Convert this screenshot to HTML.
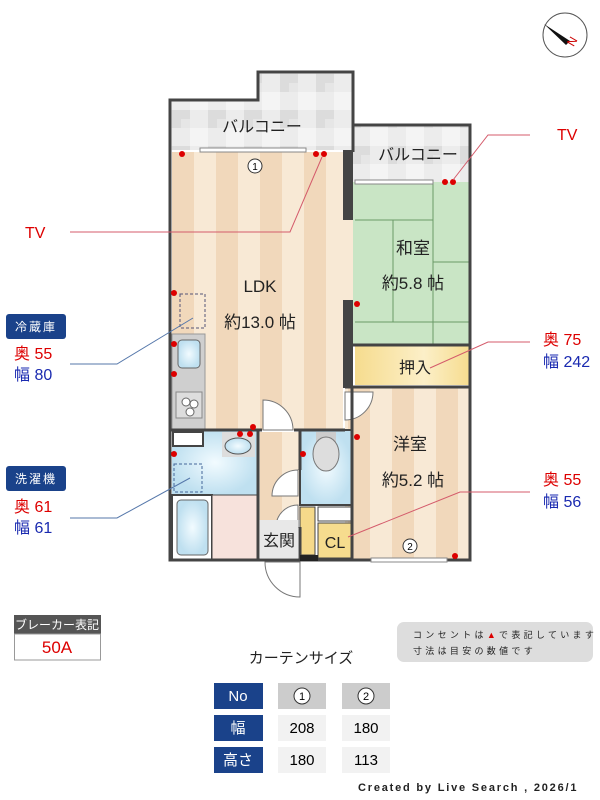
<!DOCTYPE html>
<html><head><meta charset="utf-8"><style>
body{margin:0;background:#fff;width:600px;height:800px;overflow:hidden}
svg{display:block}
text{font-family:"Liberation Sans","Noto Sans CJK JP",sans-serif}
</style></head><body>
<svg width="600" height="800" viewBox="0 0 600 800" xmlns="http://www.w3.org/2000/svg">
<defs>
<pattern id="st" x="172" y="0" width="44" height="10" patternUnits="userSpaceOnUse">
<rect width="44" height="10" fill="#f8e9d5"/><rect x="0" width="22" height="10" fill="#f1d8bb"/></pattern>
<pattern id="tile" x="172" y="74" width="36" height="36" patternUnits="userSpaceOnUse">
<rect width="36" height="36" fill="#ececec"/><rect width="18" height="18" fill="#dcdcdc"/><rect x="18" y="18" width="18" height="18" fill="#f4f4f4"/><rect x="9" y="9" width="9" height="9" fill="#e6e6e6"/></pattern>
<radialGradient id="bl"><stop offset="0" stop-color="#f2fbff"/><stop offset="1" stop-color="#bfe0f0"/></radialGradient>
<linearGradient id="yl" x1="0" x2="1"><stop offset="0" stop-color="#f6dc8e"/><stop offset="0.6" stop-color="#fcefc8"/><stop offset="1" stop-color="#f6dc8e"/></linearGradient>
</defs>
<!-- compass -->
<circle cx="565" cy="35" r="22" fill="#fff" stroke="#555" stroke-width="1"/>
<polygon points="544,24 570,41 566,45" fill="#111"/>
<text x="567" y="44" font-size="12" fill="#c00" transform="rotate(-60 573 40)">N</text>
<!-- balconies -->
<path d="M170,100 H258 V72 H353 V125 H470 V182 H353 V150 H170 Z" fill="url(#tile)"/>
<path d="M170,152 V100 H258 V72 H353 V125 H470 V182" fill="none" stroke="#444" stroke-width="3"/>
<line x1="353" y1="72" x2="353" y2="152" stroke="#444" stroke-width="3"/>
<text x="262" y="132" font-size="16" text-anchor="middle" fill="#222">バルコニー</text>
<text x="418" y="160" font-size="16" text-anchor="middle" fill="#222">バルコニー</text>
<!-- LDK floor -->
<rect x="172" y="152" width="171" height="278" fill="url(#st)"/>
<rect x="343" y="220" width="12" height="80" fill="#f8e9d5"/>
<!-- washitsu -->
<rect x="353" y="182" width="117" height="163" fill="#c9e5c5"/>
<g stroke="#6a9a68" stroke-width="1" fill="none">
<line x1="355" y1="220" x2="433" y2="220"/><line x1="433" y1="182" x2="433" y2="345"/>
<line x1="393" y1="220" x2="393" y2="322"/><line x1="433" y1="262" x2="470" y2="262"/>
<line x1="355" y1="322" x2="470" y2="322"/></g>
<text x="413" y="254" font-size="17" text-anchor="middle" fill="#222">和室</text>
<text x="413" y="289" font-size="17" text-anchor="middle" fill="#222">約5.8 帖</text>
<!-- oshiire -->
<rect x="355" y="345" width="115" height="40" fill="url(#yl)"/>
<text x="415" y="373" font-size="16" text-anchor="middle" fill="#222">押入</text>
<!-- youshitsu -->
<rect x="345" y="388" width="125" height="172" fill="url(#st)"/>
<text x="410" y="450" font-size="17" text-anchor="middle" fill="#222">洋室</text>
<text x="413" y="486" font-size="17" text-anchor="middle" fill="#222">約5.2 帖</text>
<path d="M345,392 h28 a28,28 0 0 1 -28,28 z" fill="#fff" stroke="#777"/>
<!-- LDK labels -->
<text x="260" y="292" font-size="17" text-anchor="middle" fill="#222">LDK</text>
<text x="260" y="328" font-size="17" text-anchor="middle" fill="#222">約13.0 帖</text>
<!-- kitchen -->
<rect x="172" y="334" width="33" height="95" fill="#cfcfcf" stroke="#999"/>
<rect x="178" y="340" width="22" height="28" rx="4" fill="url(#bl)" stroke="#666"/>
<rect x="176" y="392" width="26" height="26" fill="#ddd" stroke="#888"/>
<circle cx="186" cy="402" r="4" fill="#fff" stroke="#666"/><circle cx="194" cy="404" r="4" fill="#fff" stroke="#666"/><circle cx="190" cy="412" r="4" fill="#fff" stroke="#666"/>
<rect x="180" y="294" width="25" height="34" fill="none" stroke="#557" stroke-dasharray="3,2"/>
<!-- door LDK -->
<path d="M263,430 v-30 a30,30 0 0 1 30,30 z" fill="#fff" stroke="#777"/>
<!-- wash area -->
<rect x="172" y="430" width="86" height="65" fill="url(#bl)"/>
<rect x="173" y="432" width="30" height="14" fill="#fff" stroke="#444" stroke-width="2"/>
<rect x="222" y="432" width="33" height="25" fill="#ddd"/>
<ellipse cx="238" cy="446" rx="13" ry="8" fill="url(#bl)" stroke="#555"/>
<rect x="174" y="464" width="28" height="28" fill="none" stroke="#469" stroke-dasharray="3,2"/>
<rect x="172" y="495" width="40" height="65" fill="#fff" stroke="#444" stroke-width="2"/>
<rect x="177" y="500" width="31" height="55" rx="4" fill="url(#bl)" stroke="#666"/>
<rect x="212" y="495" width="46" height="65" fill="#f7e2dc" stroke="#444"/>
<!-- hall -->
<rect x="258" y="432" width="42" height="88" fill="url(#st)"/>
<path d="M298,470 a26,26 0 0 0 -26,26 h26 z" fill="#fff" stroke="#777"/>
<path d="M298,505 a22,22 0 0 0 -22,22 h22 z" fill="#fff" stroke="#777"/>
<rect x="260" y="520" width="38" height="38" fill="#e8e8e8"/>
<text x="279" y="546" font-size="16" text-anchor="middle" fill="#222">玄関</text>
<path d="M265,562 a35,35 0 0 0 35,35 v-35 z" fill="#fff" stroke="#777"/>
<!-- toilet -->
<rect x="300" y="430" width="52" height="75" fill="url(#bl)" stroke="#444" stroke-width="2"/>
<rect x="316" y="432" width="20" height="10" fill="#ccc"/>
<ellipse cx="326" cy="454" rx="13" ry="17" fill="#ddd" stroke="#777"/>
<!-- closets -->
<rect x="300" y="507" width="15" height="48" fill="#f5d98a" stroke="#444"/>
<rect x="318" y="507" width="34" height="14" fill="#fff" stroke="#444"/>
<rect x="318" y="523" width="34" height="35" fill="#f6dc8e" stroke="#444"/>
<text x="335" y="548" font-size="16" text-anchor="middle" fill="#222">CL</text>
<!-- walls -->
<g stroke="#444" stroke-width="3" fill="none">
<path d="M170,150 V560 H470 V182"/>
<line x1="170" y1="430" x2="262" y2="430"/><line x1="294" y1="430" x2="345" y2="430"/>
<line x1="258" y1="430" x2="258" y2="560"/><line x1="300" y1="430" x2="300" y2="470"/><line x1="300" y1="527" x2="300" y2="560"/>
<line x1="352" y1="388" x2="352" y2="560"/><line x1="345" y1="387" x2="470" y2="387"/>
<line x1="353" y1="345" x2="470" y2="345"/>
</g>
<rect x="343" y="150" width="10" height="70" fill="#444"/>
<rect x="343" y="300" width="10" height="88" fill="#444"/>
<rect x="300" y="555" width="18" height="6" fill="#222"/>
<!-- windows -->
<rect x="200" y="148" width="106" height="4" fill="#fff" stroke="#888"/>
<rect x="355" y="180" width="78" height="4" fill="#fff" stroke="#888"/>
<rect x="371" y="558" width="76" height="4" fill="#fff" stroke="#888"/>
<circle cx="255" cy="166" r="7" fill="#fff" stroke="#333"/><text x="255" y="170" font-size="10" text-anchor="middle">1</text>
<circle cx="410" cy="546" r="7" fill="#fff" stroke="#333"/><text x="410" y="550" font-size="10" text-anchor="middle">2</text>
<!-- outlets -->
<g fill="#d00">
<circle cx="182" cy="154" r="3"/><circle cx="316" cy="154" r="3"/><circle cx="324" cy="154" r="3"/>
<circle cx="445" cy="182" r="3"/><circle cx="453" cy="182" r="3"/><circle cx="174" cy="293" r="3"/>
<circle cx="174" cy="344" r="3"/><circle cx="174" cy="374" r="3"/><circle cx="253" cy="427" r="3"/>
<circle cx="240" cy="434" r="3"/><circle cx="250" cy="434" r="3"/><circle cx="174" cy="454" r="3"/>
<circle cx="303" cy="454" r="3"/><circle cx="357" cy="437" r="3"/><circle cx="357" cy="304" r="3"/><circle cx="455" cy="556" r="3"/></g>
<!-- leader lines -->
<g fill="none" stroke-width="1">
<polyline points="70,232 290,232 322,157" stroke="#d45b6b"/>
<polyline points="453,180 488,135 530,135" stroke="#d45b6b"/>
<polyline points="430,368 488,342 530,342" stroke="#d45b6b"/>
<polyline points="348,537 460,492 530,492" stroke="#d45b6b"/>
<polyline points="70,364 117,364 193,318" stroke="#57a"/>
<polyline points="70,518 117,518 190,478" stroke="#57a"/>
</g>
<text x="25" y="238" font-size="16" fill="#d00">TV</text>
<text x="557" y="140" font-size="16" fill="#d00">TV</text>
<rect x="6" y="314" width="60" height="25" rx="3" fill="#1a428a"/>
<text x="36" y="331" font-size="12" fill="#fff" text-anchor="middle" letter-spacing="2">冷蔵庫</text>
<text x="14" y="359" font-size="16" fill="#d00">奥  55</text><text x="14" y="380" font-size="16" fill="#1a2ab0">幅  80</text>
<rect x="6" y="466" width="60" height="25" rx="3" fill="#1a428a"/>
<text x="36" y="483" font-size="12" fill="#fff" text-anchor="middle" letter-spacing="2">洗濯機</text>
<text x="14" y="512" font-size="16" fill="#d00">奥  61</text><text x="14" y="533" font-size="16" fill="#1a2ab0">幅  61</text>
<text x="543" y="345" font-size="16" fill="#d00">奥  75</text><text x="543" y="367" font-size="16" fill="#1a2ab0">幅 242</text>
<text x="543" y="485" font-size="16" fill="#d00">奥  55</text><text x="543" y="507" font-size="16" fill="#1a2ab0">幅  56</text>
<!-- breaker -->
<rect x="14" y="615" width="87" height="19" fill="#555"/>
<text x="57" y="629" font-size="12" fill="#fff" text-anchor="middle">ブレーカー表記</text>
<rect x="14.5" y="634" width="86" height="26" fill="#fff" stroke="#999"/>
<text x="57" y="653" font-size="17" fill="#d00" text-anchor="middle">50A</text>
<!-- note -->
<rect x="397" y="622" width="196" height="40" rx="7" fill="#ddd"/>
<text x="413" y="638" font-size="9" fill="#222" letter-spacing="3.3">コンセントは<tspan fill="#d00">▲</tspan>で表記しています</text>
<text x="413" y="654" font-size="9" fill="#222" letter-spacing="3.3">寸法は目安の数値です</text>
<text x="301" y="663" font-size="15" fill="#222" text-anchor="middle">カーテンサイズ</text>
<!-- table -->
<g font-size="15" text-anchor="middle">
<rect x="214" y="683" width="49" height="26" fill="#1a428a"/><text x="238" y="701" fill="#fff">No</text>
<rect x="278" y="683" width="48" height="26" fill="#ccc"/><circle cx="302" cy="696" r="8" fill="#fff" stroke="#333"/><text x="302" y="700" font-size="11">1</text>
<rect x="342" y="683" width="48" height="26" fill="#ccc"/><circle cx="366" cy="696" r="8" fill="#fff" stroke="#333"/><text x="366" y="700" font-size="11">2</text>
<rect x="214" y="715" width="49" height="26" fill="#1a428a"/><text x="238" y="733" fill="#fff">幅</text>
<rect x="278" y="715" width="48" height="26" fill="#f2f2f2"/><text x="302" y="733">208</text>
<rect x="342" y="715" width="48" height="26" fill="#f2f2f2"/><text x="366" y="733">180</text>
<rect x="214" y="747" width="49" height="26" fill="#1a428a"/><text x="238" y="765" fill="#fff">高さ</text>
<rect x="278" y="747" width="48" height="26" fill="#f2f2f2"/><text x="302" y="765">180</text>
<rect x="342" y="747" width="48" height="26" fill="#f2f2f2"/><text x="366" y="765">113</text>
</g>
<text x="358" y="791" font-size="11" font-family="Liberation Mono" font-weight="bold" letter-spacing="1.8" fill="#222">Created by Live Search , 2026/1</text>
</svg>
</body></html>
